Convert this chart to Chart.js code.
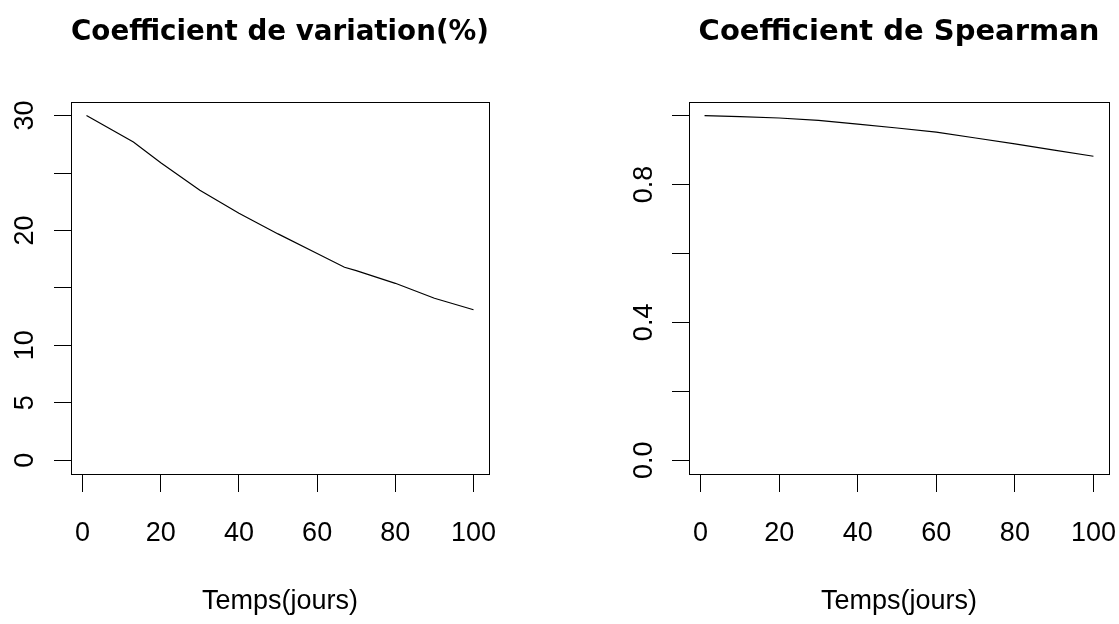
<!DOCTYPE html>
<html>
<head>
<meta charset="utf-8">
<script src="https://cdn.jsdelivr.net/npm/chart.js@4/dist/chart.umd.min.js"></script>
<style>
  html, body { margin: 0; padding: 0; background: #fff; }
  #wrap { position: relative; width: 1119px; height: 624px; }
  canvas { position: absolute; top: 0; }
  #cvChart { left: 0; }
  #rhoChart { left: 560px; }
</style>
</head>
<body>
<div id="wrap">
  <canvas id="cvChart" width="559" height="624"></canvas>
  <canvas id="rhoChart" width="559" height="624"></canvas>
</div>
<script>
// valeurs
const cvDays = [1, 13, 20, 30, 40, 50, 60, 67, 70, 80, 90, 100];
const cvValues = [30.0, 27.7, 25.9, 23.5, 21.5, 19.7, 18.0, 16.8, 16.5, 15.4, 14.1, 13.1];

const rhoDays = [1, 10, 20, 30, 40, 50, 60, 70, 80, 90, 100];
const rhoValues = [1.0, 0.997, 0.993, 0.986, 0.975, 0.964, 0.952, 0.935, 0.918, 0.9, 0.882];

const dayTicks = [0, 20, 40, 60, 80, 100];
const cvTicks = [0, 5, 10, 15, 20, 25, 30];
const cvTickLabels = [0, 5, 10, 20, 30];
const rhoTicks = [0, 0.2, 0.4, 0.6, 0.8, 1.0];
const rhoTickLabels = [0, 0.4, 0.8];

const titles = ["Coefficient de variation(%)", "Coefficient de Spearman"];
const xTitle = "Temps(jours)";

const tickFont = { family: "'Liberation Sans', Arial, sans-serif", size: 27, lineHeight: 1.2 };
const titleFont = { family: "'DejaVu Sans', sans-serif", size: 29, weight: "bold", lineHeight: 1.2 };

// cadre autour de la zone du graphique (comme box() dans R)
const framePlugin = {
  id: "frame",
  afterDraw(chart) {
    const { ctx, chartArea } = chart;
    ctx.save();
    ctx.strokeStyle = "#000";
    ctx.lineWidth = 1;
    ctx.strokeRect(
      Math.round(chartArea.left) + 0.5,
      Math.round(chartArea.top) + 0.5,
      Math.round(chartArea.right - chartArea.left),
      Math.round(chartArea.bottom - chartArea.top)
    );
    ctx.restore();
  },
};

function makeChart(id, opts) {
  const ctx = document.getElementById(id).getContext("2d");
  return new Chart(ctx, {
    type: "line",
    data: {
      datasets: [
        {
          data: opts.days.map((d, i) => ({ x: d, y: opts.values[i] })),
          borderColor: "#000",
          borderWidth: 1.2,
          pointRadius: 0,
          tension: 0,
          fill: false,
        },
      ],
    },
    options: {
      responsive: false,
      animation: false,
      devicePixelRatio: 1,
      layout: { padding: { left: 0, right: opts.padRight, top: 0, bottom: 0 } },
      plugins: {
        legend: { display: false },
        tooltip: { enabled: false },
        title: {
          display: true,
          text: opts.title,
          fullSize: false,
          color: "#000",
          font: titleFont,
          padding: { top: 15, bottom: 52 },
        },
      },
      scales: {
        x: {
          type: "linear",
          min: -2.96,
          max: 103.96,
          afterBuildTicks: (axis) => {
            axis.ticks = dayTicks.map((v) => ({ value: v }));
          },
          afterFit: (axis) => {
            axis.height = 150;
            axis.paddingLeft = 0;
            axis.paddingRight = 0;
          },
          border: { display: false },
          grid: { drawOnChartArea: false, drawTicks: true, tickLength: 18, color: "#000" },
          ticks: { color: "#000", font: tickFont, padding: 25, autoSkip: false, maxRotation: 0 },
          title: {
            display: true,
            text: xTitle,
            color: "#000",
            font: tickFont,
            padding: { top: 0, bottom: 6 },
          },
        },
        y: {
          type: "linear",
          min: opts.yMin,
          max: opts.yMax,
          afterBuildTicks: (axis) => {
            axis.ticks = opts.yTicks.map((v) => ({ value: v }));
          },
          afterFit: (axis) => {
            axis.width = opts.yWidth;
            axis.paddingTop = 0;
            axis.paddingBottom = 0;
          },
          border: { display: false },
          grid: { drawOnChartArea: false, drawTicks: true, tickLength: 17, color: "#000" },
          ticks: {
            color: "#000",
            font: tickFont,
            padding: opts.yPad,
            autoSkip: false,
            minRotation: 90,
            maxRotation: 90,
            crossAlign: "center",
            callback: (value) =>
              opts.yLabels.some((v) => Math.abs(v - value) < 1e-9) ? opts.fmt(value) : "",
          },
        },
      },
    },
    plugins: [framePlugin],
  });
}

makeChart("cvChart", {
  title: titles[0],
  days: cvDays,
  values: cvValues,
  yMin: -1.2,
  yMax: 31.2,
  yTicks: cvTicks,
  yLabels: cvTickLabels,
  fmt: (v) => String(v),
  yWidth: 71,
  yPad: 13,
  padRight: 70,
});

makeChart("rhoChart", {
  title: titles[1],
  days: rhoDays,
  values: rhoValues,
  yMin: -0.04,
  yMax: 1.04,
  yTicks: rhoTicks,
  yLabels: rhoTickLabels,
  fmt: (v) => v.toFixed(1),
  yWidth: 129,
  yPad: 9,
  padRight: 10,
});
</script>
</body>
</html>
